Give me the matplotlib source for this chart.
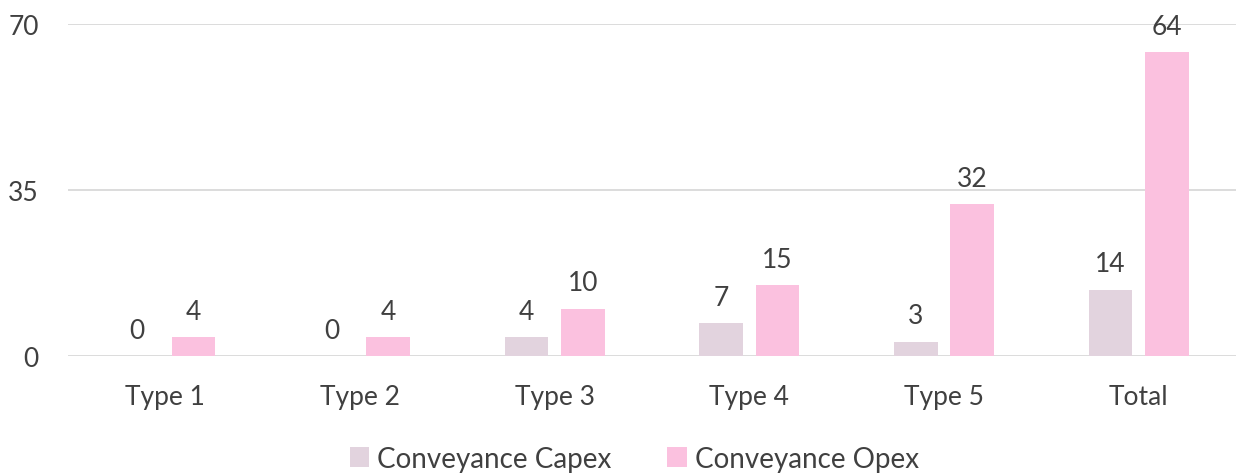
import numpy as np
import matplotlib.pyplot as plt

plt.rcParams['font.family'] = ['Lato', 'DejaVu Sans']

# dati
categorie = ["Type 1", "Type 2", "Type 3", "Type 4", "Type 5", "Total"]
capex = [0, 0, 4, 7, 3, 14]
opex = [4, 4, 10, 15, 32, 64]
tick_y = [0, 35, 70]

col_capex = "#e2d3de"
col_opex = "#fbc1df"
col_testo = "#404040"

fig = plt.figure(figsize=(12.36, 4.77), dpi=100)
ax = fig.add_axes([0.055, 0.2516, 0.945, 0.696])

x = np.arange(len(categorie))
w = 0.225
b1 = ax.bar(x - 0.145, capex, w, color=col_capex, label="Conveyance Capex", zorder=2)
b2 = ax.bar(x + 0.145, opex, w, color=col_opex, label="Conveyance Opex", zorder=2)

for barre, valori in [(b1, capex), (b2, opex)]:
    for r, v in zip(barre, valori):
        ax.text(r.get_x() + r.get_width() / 2, v + 2.8, str(v), ha="center", va="bottom",
                fontsize=19, color=col_testo)

ax.set_xlim(-0.5, len(categorie) - 0.5)
ax.set_ylim(0, 70)
ax.set_yticks(tick_y)
ax.set_xticks(x)
ax.set_xticklabels(categorie)
ax.tick_params(axis="both", length=0, labelsize=19, labelcolor=col_testo)
ax.tick_params(axis="y", pad=21)
ax.tick_params(axis="x", pad=20)
ax.yaxis.grid(True, color="#d9d9d9", linewidth=1.3, zorder=0)
for s in ax.spines.values():
    s.set_visible(False)

ax.legend(loc="center", bbox_to_anchor=(0.485, -0.31), ncol=2, frameon=False,
          fontsize=20, labelcolor=col_testo, handlelength=0.7, handleheight=0.7,
          handletextpad=0.3, columnspacing=2.0)

fig.savefig("out.png", dpi=100)
